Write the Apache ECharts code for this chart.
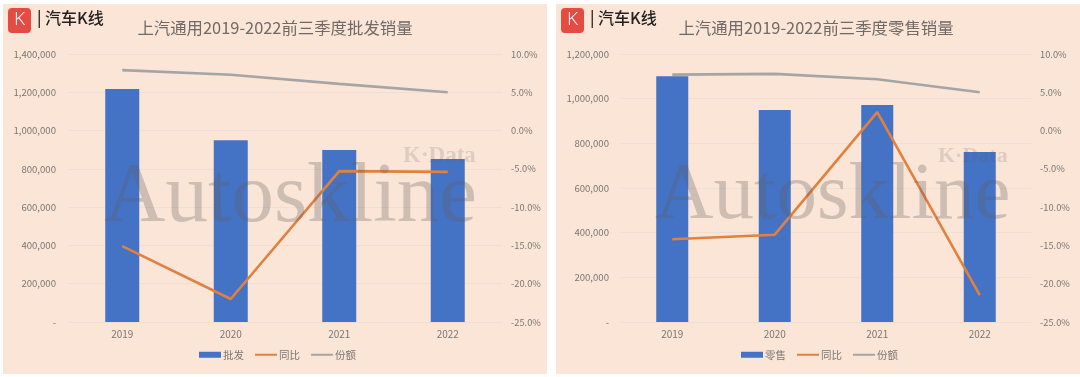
<!DOCTYPE html>
<html><head><meta charset="utf-8">
<style>html,body{margin:0;padding:0;background:#fff}#c{width:1080px;height:377px;filter:blur(0.45px)}</style>
<script src="https://cdn.jsdelivr.net/npm/echarts@6/dist/echarts.min.js"></script></head>
<body><div id="c"></div>
<script>
const years = ['2019','2020','2021','2022'];
const wholesale = [1217000,950000,898000,851000];
const wholesaleYoy = [-15.1,-22.0,-5.3,-5.4];
const wholesaleShare = [7.9,7.3,6.1,5.0];
const retail = [1100000,949000,972000,761000];
const retailYoy = [-14.2,-13.6,2.4,-21.5];
const retailShare = [7.3,7.4,6.7,5.0];
const titleLeft = '上汽通用2019-2022前三季度批发销量';
const titleRight = '上汽通用2019-2022前三季度零售销量';
const CJK = '"Noto Sans CJK SC","Noto Sans",sans-serif';
const txt = '#7b7673', grid = '#efdfd3', panel = '#fbe5d6';
const fmtL = v => v === 0 ? '-' : v.toLocaleString('en-US');
const fmtR = v => v.toFixed(1) + '%';
function yAxes(gi, max, interval){
  return [
    {type:'value',gridIndex:gi,min:0,max,interval,axisLine:{show:false},axisTick:{show:false},
     axisLabel:{formatter:fmtL,color:txt,fontSize:9.6,fontFamily:CJK,margin:12},splitLine:{lineStyle:{color:grid,width:1}}},
    {type:'value',gridIndex:gi,min:-25,max:10,interval:5,position:'right',axisLine:{show:false},axisTick:{show:false},
     axisLabel:{formatter:fmtR,color:txt,fontSize:9.3,fontFamily:CJK,margin:9},splitLine:{show:false}}
  ];
}
function xAxis(gi){return {type:'category',gridIndex:gi,data:years,axisLine:{lineStyle:{color:grid}},axisTick:{show:false},
  axisLabel:{color:txt,fontSize:10,fontFamily:CJK,margin:7}};}
function series(name,bars,yoy,share,gi,yi,w){
  return [
    {name,type:'bar',xAxisIndex:gi,yAxisIndex:yi,data:bars,barWidth:w,itemStyle:{color:'#4472c4'}},
    {name:'同比',type:'line',xAxisIndex:gi,yAxisIndex:yi+1,data:yoy,symbol:'none',lineStyle:{color:'#e0813f',width:2.6},itemStyle:{color:'#e0813f'}},
    {name:'份额',type:'line',xAxisIndex:gi,yAxisIndex:yi+1,data:share,symbol:'none',lineStyle:{color:'#a5a5a5',width:2.6},itemStyle:{color:'#a5a5a5'}}
  ];
}
function brand(x){
  return [
    {type:'rect',z:1,shape:{x:x,y:8,width:23,height:25,r:4},style:{fill:'#e44b43'}},
    {type:'text',z:2,x:x+6,y:10,style:{text:'K',fill:'#fff',font:'300 19px "Open Sans",sans-serif'}},
    {type:'text',z:2,x:x+29,y:10,style:{text:'| 汽车K线',fill:'#222',font:'500 16px '+CJK}}
  ];
}
function mark(x,size,kx,ksize){
  return [
    {type:'text',z:20,x:x,y:156,style:{text:'Autoskline',fill:'rgba(100,95,95,0.3)',font:size+'px "Liberation Serif",serif'}},
    {type:'text',z:20,x:kx,y:145,style:{text:'K·Data',fill:'rgba(100,95,95,0.18)',font:'bold '+ksize+'px "Liberation Serif",serif'}}
  ];
}
const legendBase = {bottom:12,itemWidth:22,itemHeight:6,itemGap:10,textStyle:{color:txt,fontSize:10.5,fontFamily:CJK,padding:[0,0,0,-3]}};
const hideDot = {opacity:0};
const legendData = first => [{name:first,icon:'rect'},{name:'同比',itemStyle:hideDot},{name:'份额',itemStyle:hideDot}];
const chart = echarts.init(document.getElementById('c'));
chart.setOption({
  animation:false,
  backgroundColor:'#fff',
  title:[
    {text:titleLeft,left:270,top:15,textAlign:'center',textStyle:{color:'#6f6a67',fontSize:16.4,fontWeight:'normal',fontFamily:CJK}},
    {text:titleRight,left:811,top:15,textAlign:'center',textStyle:{color:'#6f6a67',fontSize:16.4,fontWeight:'normal',fontFamily:CJK}}
  ],
  legend:[
    Object.assign({},legendBase,{left:194,data:legendData('批发')}),
    Object.assign({},legendBase,{left:736,data:legendData('零售')})
  ],
  grid:[
    {left:68,right:578,top:54,height:268},
    {left:621,right:49,top:54,height:268}
  ],
  xAxis:[xAxis(0),xAxis(1)],
  yAxis:[...yAxes(0,1400000,200000),...yAxes(1,1200000,200000)],
  series:[
    ...series('批发',wholesale,wholesaleYoy,wholesaleShare,0,0,34),
    ...series('零售',retail,retailYoy,retailShare,1,2,32)
  ],
  graphic:[
    {type:'rect',z:-1,silent:true,shape:{x:3,y:4,width:544,height:370},style:{fill:panel}},
    {type:'rect',z:-1,silent:true,shape:{x:556,y:4,width:524,height:370},style:{fill:panel}},
    ...brand(8),...brand(561),
    ...mark(104,85,403,23),...mark(655,81,938,22)
  ]
});
</script></body></html>
